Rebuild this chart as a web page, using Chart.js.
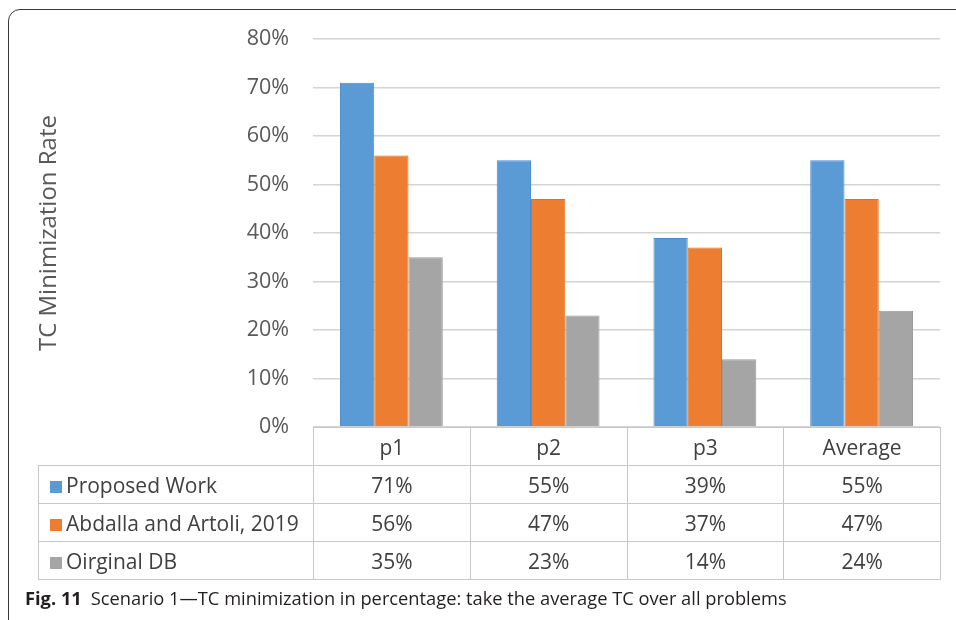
<!DOCTYPE html>
<html>
<head>
<meta charset="utf-8">
<script src="https://cdn.jsdelivr.net/npm/chart.js@4/dist/chart.umd.min.js"></script>
<style>
  html, body { margin: 0; padding: 0; background: #fff; }
  body { width: 956px; height: 620px; position: relative; overflow: hidden; font-family: "Open Sans", sans-serif; }
  #frame {
    position: absolute; left: 8px; top: 9px; width: 980px; height: 640px;
    border: 1.5px solid #3a3a3a; border-radius: 12px; box-sizing: border-box;
  }
  #wrap { position: absolute; left: 0; top: 0; width: 956px; height: 464px; }
  #dataTable {
    position: absolute; border-collapse: collapse; table-layout: fixed;
    font-size: 21px; color: #404040;
  }
  #dataTable td {
    border: 1.5px solid #c8c8c8; text-align: center; padding: 0; height: 37px;
    white-space: nowrap; overflow: hidden;
  }
  #dataTable tr.head td.blank { border: none; }
  #dataTable td.name { text-align: left; padding-left: 11px; }
  #dataTable .key { display: inline-block; width: 12px; height: 12px; margin-right: 4px; vertical-align: 0px; }
  #caption {
    position: absolute; left: 25px; top: 585px; font-size: 18.3px; color: #231f20; white-space: nowrap;
  }
  #caption b { margin-right: 9px; }
</style>
</head>
<body>
<div id="frame"></div>
<div id="wrap"><canvas id="grafico"></canvas></div>
<table id="dataTable"></table>
<div id="caption"><b>Fig. 11</b>Scenario 1—TC minimization in percentage: take the average TC over all problems</div>

<script>
// categorias e séries (valores em %)
const categorias = ['p1', 'p2', 'p3', 'Average'];
const proposedWork = [71, 55, 39, 55];
const abdallaArtoli = [56, 47, 37, 47];
const originalDB = [35, 23, 14, 24];
const yTicks = [0, 10, 20, 30, 40, 50, 60, 70, 80];

const series = [
  { nome: 'Proposed Work', dados: proposedWork, cor: '#5b9bd5', borda: '#4a8bcf' },
  { nome: 'Abdalla and Artoli, 2019', dados: abdallaArtoli, cor: '#ed7d31', borda: '#e0701f' },
  { nome: 'Oirginal DB', dados: originalDB, cor: '#a5a5a5', borda: '#999999' }
];

const LEGEND_COL = 275;

// monta a tabela de dados abaixo do gráfico, alinhada com a área do gráfico
function montarTabela(chart) {
  const area = chart.chartArea;
  const tabela = document.getElementById('dataTable');
  const colW = (area.right - area.left) / categorias.length;
  tabela.style.left = (area.left - LEGEND_COL) + 'px';
  tabela.style.top = area.bottom + 'px';
  tabela.style.width = (area.right - area.left + LEGEND_COL) + 'px';

  let html = '<colgroup><col style="width:' + LEGEND_COL + 'px">';
  categorias.forEach(() => { html += '<col style="width:' + colW + 'px">'; });
  html += '</colgroup>';
  html += '<tr class="head"><td class="blank"></td>' + categorias.map(c => '<td>' + c + '</td>').join('') + '</tr>';
  series.forEach(s => {
    html += '<tr><td class="name"><span class="key" style="background:' + s.cor + '"></span>' + s.nome + '</td>' +
      s.dados.map(v => '<td>' + v + '%</td>').join('') + '</tr>';
  });
  tabela.innerHTML = html;
}

const ctx = document.getElementById('grafico').getContext('2d');
const chart = new Chart(ctx, {
  type: 'bar',
  data: {
    labels: categorias,
    datasets: series.map(s => ({
      label: s.nome,
      data: s.dados,
      backgroundColor: s.cor,
      borderColor: s.borda,
      borderWidth: 1,
      categoryPercentage: 0.656,
      barPercentage: 1
    }))
  },
  options: {
    responsive: true,
    maintainAspectRatio: false,
    animation: false,
    layout: { padding: { left: 0, right: 16, top: 39, bottom: 14 } },
    plugins: { legend: { display: false }, tooltip: { enabled: false } },
    scales: {
      x: { display: false },
      y: {
        min: 0,
        max: 80,
        afterFit: scale => { scale.width = 313; },
        afterBuildTicks: scale => { scale.ticks = yTicks.map(v => ({ value: v })); },
        ticks: {
          padding: 24,
          color: '#595959',
          font: { family: 'Open Sans', size: 21.5 },
          callback: v => v + '%'
        },
        grid: { color: '#d4d4d4', lineWidth: 1.5, drawTicks: false },
        border: { display: false },
        title: {
          display: true,
          text: 'TC Minimization Rate',
          color: '#595959',
          font: { family: 'Open Sans', size: 24 },
          padding: { top: 35 }
        }
      }
    }
  }
});

montarTabela(chart);
</script>
</body>
</html>
